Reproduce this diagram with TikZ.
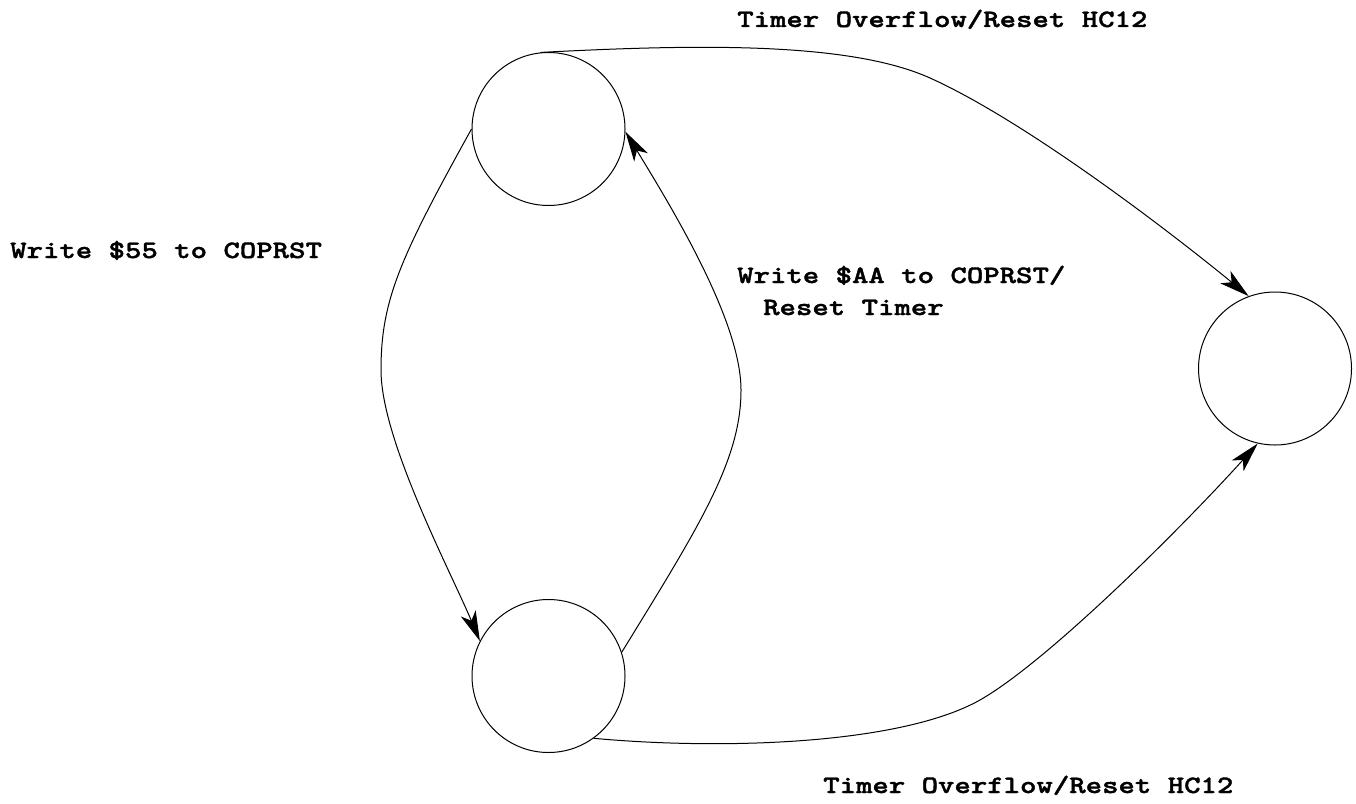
\documentclass[tikz,border=0pt]{standalone}
\usepackage{fontspec}
\usetikzlibrary{arrows.meta}
% wide, heavy typewriter face for the labels
\newfontfamily\labelfont[FakeStretch=1.25, FakeBold=1.5]{Latin Modern Mono Light}
\tikzset{
  state/.style={draw, circle, line width=1pt, inner sep=0pt, minimum size=153pt},
  trans/.style={line width=1pt, -{Stealth[length=30pt, width=16pt, inset=8pt]}},
  lbl/.style={anchor=base west, inner sep=0pt, font=\fontsize{25}{30}\selectfont\labelfont\bfseries}
}
\begin{document}
\begin{tikzpicture}[x=1pt, y=-1pt]
  \useasboundingbox (0,0) rectangle (1356,803);
  % states
  \node[state] (t) at (548.5,129) {};
  \node[state] (b) at (548.5,676) {};
  \node[state] (r) at (1275,368.5) {};
  % transitions
  \draw[trans] (t.96) .. controls (700,44) and (850,42) .. (930,78)
               .. controls (1021,119) and (1158,222) .. (r.110);
  \draw[trans] (t.180) .. controls (400,258) and (381,300) .. (381,370)
               .. controls (381,440) and (450,570) .. (b.153);
  \draw[trans] (b.18) .. controls (700,525) and (741,460) .. (741,390)
               .. controls (741,320) and (670,205) .. (t.-2);
  \draw[trans] (b.-54) .. controls (720,750) and (900,745) .. (980,700)
               .. controls (1050,660) and (1187,522) .. (r.257);
  % labels
  \node[lbl] (l1) at (737,27) {Timer Overflow/Reset HC12};
  \node[lbl] (l2) at (10,258) {Write \$55 to COPRST};
  \node[lbl] (l3) at (737,283) {Write \$AA to COPRST/};
  \node[lbl] (l4) at (763,315) {Reset Timer};
  \node[lbl] (l5) at (823,793) {Timer Overflow/Reset HC12};
\end{tikzpicture}
\end{document}
